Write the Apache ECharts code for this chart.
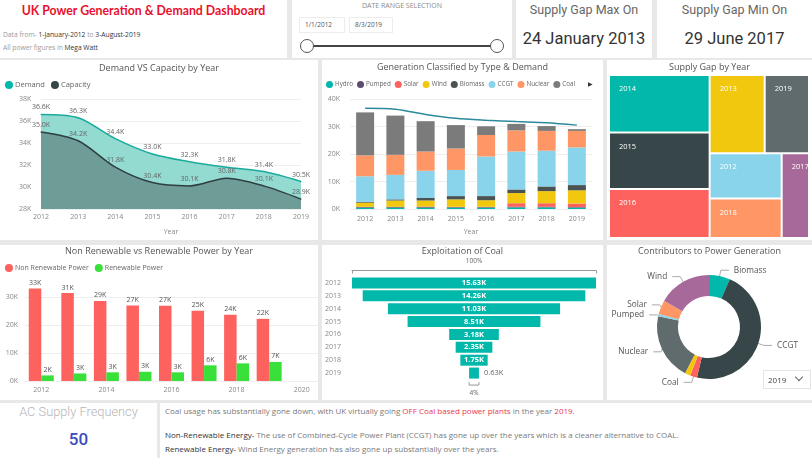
<!DOCTYPE html>
<html><head><meta charset="utf-8">
<script src="https://cdn.jsdelivr.net/npm/echarts@6.0.0/dist/echarts.min.js"></script>
<style>
html,body{margin:0;padding:0}
body{width:812px;height:458px;background:#e8e8e8;position:relative;overflow:hidden;font-family:'Open Sans','Noto Sans',sans-serif;color:#333}
.card{position:absolute;background:#fff;overflow:hidden}
.abs{position:absolute;white-space:nowrap}
.chart{position:absolute}
</style></head>
<body>
<!-- Title card -->
<div class="card" style="left:0;top:0;width:287px;height:58px">
  <div class="abs" style="left:0;width:287px;top:3px;text-align:center;font-family:Lato;font-weight:bold;font-size:12.3px;color:#e8112d">UK Power Generation &amp; Demand Dashboard</div>
  <div class="abs" style="left:3px;top:30px;font-size:6.7px;color:#9a9a9a">Data from- <span style="color:#333">1-January-2012</span> to <span style="color:#333">3-August-2019</span></div>
  <div class="abs" style="left:3px;top:43px;font-size:6.7px;color:#9a9a9a">All power figures in <span style="color:#333">Mega Watt</span></div>
</div>
<!-- Date range card -->
<div class="card" style="left:292px;top:0;width:220px;height:58px">
  <div class="abs" style="left:0;width:220px;top:1px;text-align:center;font-size:7px;color:#8a8a8a">DATE RANGE SELECTION</div>
  <div class="abs" style="left:7px;top:17px;width:44px;height:14px;border:1px solid #ececec;font-size:6.5px;color:#555;line-height:14px;text-indent:5px">1/1/2012</div>
  <div class="abs" style="left:57px;top:17px;width:42px;height:14px;border:1px solid #ececec;font-size:6.5px;color:#555;line-height:14px;text-indent:5px">8/3/2019</div>
  <div class="abs" style="left:15px;top:45px;width:190px;height:1.5px;background:#444"></div>
  <div class="abs" style="left:8px;top:38.5px;width:12px;height:12px;border:1.2px solid #555;border-radius:50%;background:#fff"></div>
  <div class="abs" style="left:198px;top:38.5px;width:12px;height:12px;border:1.2px solid #555;border-radius:50%;background:#fff"></div>
</div>
<!-- Supply gap cards -->
<div class="card" style="left:516px;top:0;width:136px;height:58px;text-align:center">
  <div class="abs" style="left:0;width:136px;top:2px;font-family:Roboto;font-size:12.5px;color:#666">Supply Gap Max On</div>
  <div class="abs" style="left:0;width:136px;top:29px;font-family:Roboto;font-size:16.5px;color:#333">24 January 2013</div>
</div>
<div class="card" style="left:657px;top:0;width:155px;height:58px;text-align:center">
  <div class="abs" style="left:0;width:155px;top:2px;font-family:Roboto;font-size:12.5px;color:#666">Supply Gap Min On</div>
  <div class="abs" style="left:0;width:155px;top:29px;font-family:Roboto;font-size:16.5px;color:#333">29 June 2017</div>
</div>

<div class="card" style="left:0;top:60px;width:318px;height:180px"><div id="c1" class="chart" style="left:0;top:0;width:318px;height:180px"></div></div>
<div class="card" style="left:322px;top:60px;width:281px;height:180px"><div id="c2" class="chart" style="left:0;top:0;width:281px;height:180px"></div></div>
<div class="card" style="left:607px;top:60px;width:205px;height:180px"><div id="c3" class="chart" style="left:0;top:0;width:205px;height:180px"></div></div>
<div class="card" style="left:0;top:245px;width:318px;height:155px"><div id="c4" class="chart" style="left:0;top:0;width:318px;height:155px"></div></div>
<div class="card" style="left:322px;top:245px;width:281px;height:155px"><div id="c5" class="chart" style="left:0;top:0;width:281px;height:155px"></div></div>
<div class="card" style="left:607px;top:245px;width:205px;height:155px"><div id="c6" class="chart" style="left:0;top:0;width:205px;height:155px"></div>
  <div class="abs" style="left:156px;top:125px;width:46px;height:17px;border:1px solid #e4e4e4;font-size:8px;color:#444;line-height:17px;text-indent:4px">2019</div>
  <div class="abs" style="left:189px;top:129px;width:5px;height:5px;border-right:1px solid #666;border-bottom:1px solid #666;transform:rotate(45deg)"></div>
</div>

<div class="card" style="left:0;top:403px;width:157px;height:55px;text-align:center">
  <div class="abs" style="left:0;width:157px;top:1px;font-family:Roboto;font-weight:300;font-size:12.8px;color:#b5b5b5">AC Supply Frequency</div>
  <div class="abs" style="left:0;width:157px;top:26px;font-family:Roboto;font-weight:500;font-size:17px;color:#3a4cc0">50</div>
</div>
<div class="card" style="left:160px;top:403px;width:652px;height:55px;font-size:8px;color:#7a7a7a">
  <div class="abs" style="left:5px;top:2px">Coal usage has substantially gone down, with UK virtually going <span style="color:#e8374f">OFF Coal based power plants</span> in the year <span style="color:#e8374f">2019</span>.</div>
  <div class="abs" style="left:5px;top:26px"><span style="color:#333">Non-Renewable Energy-</span> The use of Combined-Cycle Power Plant (CCGT) has gone up over the years which is a cleaner alternative to COAL.</div>
  <div class="abs" style="left:5px;top:40px"><span style="color:#333">Renewable Energy-</span> Wind Energy generation has also gone up substantially over the years.</div>
</div>

<script>
// ---------------- DATA ----------------
const years = ['2012','2013','2014','2015','2016','2017','2018','2019'];
const demand   = [36.6, 36.3, 34.4, 33.0, 32.3, 31.8, 31.4, 30.5];
const capacity = [35.0, 34.2, 31.8, 30.4, 30.1, 30.8, 30.1, 28.9];

const genTypes = ['Hydro','Pumped','Solar','Wind','Biomass','CCGT','Nuclear','Coal'];
const hydro   = [0.5, 0.5, 0.5, 0.5, 0.5, 0.6, 0.6, 0.5];
const pumped  = [0.3, 0.3, 0.3, 0.2, 0.2, 0.2, 0.2, 0.2];
const solar   = [0.0, 0.0, 0.1, 0.1, 0.1, 1.3, 1.3, 1.3];
const wind    = [1.5, 2.3, 2.2, 2.7, 2.4, 3.7, 4.4, 4.8];
const biomass = [0.3, 0.4, 0.9, 1.2, 1.5, 1.3, 1.7, 1.9];
const ccgt    = [9.3, 8.9, 9.9, 9.5, 14.4, 13.8, 13.0, 13.7];
const nuclear = [7.6, 7.3, 7.0, 7.8, 7.8, 7.7, 7.2, 6.0];
const coal    = [15.63, 14.26, 11.03, 8.51, 3.18, 2.35, 1.75, 0.63];

const nrYears = ['2012','2013','2014','2015','2016','2017','2018','2019','2020'];
const nonRenewable = [33.0, 31.4, 28.6, 27.0, 26.9, 25.1, 23.7, 22.2];
const renewable    = [2.0, 2.7, 3.1, 3.3, 3.1, 5.6, 6.3, 6.8];

const supplyGap = [3.1, 4.1, 5.5, 5.4, 4.7, 2.2, 2.7, 3.3];

const demandTicks = {min: 28, max: 38, step: 2};
const genTicks = {min: 0, max: 40, step: 10};
const nrTicks = {min: 0, max: 35, step: 10};
const donutYearIndex = 7; // 2019

// ---------------- STYLE ----------------
const FONT = 'Open Sans';
const pbi = ['#01B8AA','#374649','#FD625E','#F2C80F','#5F6B6D','#8AD4EB','#FE9666','#A66999'];
const genColors = ['#01B8AA','#5d4b6e','#FD625E','#F2C80F','#4a5252','#8AD4EB','#FE9666','#7b7b7b'];
const titleStyle = {fontSize: 9, fontWeight: 'normal', color: '#555', fontFamily: FONT};
const axisLbl = {fontSize: 7, color: '#888', fontFamily: FONT};
const kfmt = v => v + 'K';
const mkTitle = (text, top) => ({text: text, left: 'center', top: top, padding: 0, textStyle: titleStyle});

// ---------- 1: Demand vs Capacity ----------
const c1 = echarts.init(document.getElementById('c1'));
const lineLbl = {show: true, position: 'top', distance: 3, formatter: p => p.value.toFixed(1) + 'K', fontSize: 7, color: '#666', fontFamily: FONT};
c1.setOption({
  animation: false,
  title: mkTitle('Demand VS Capacity by Year', 4),
  legend: {left: 5, top: 21, padding: 0, icon: 'circle', itemWidth: 8, itemHeight: 8, itemGap: 6,
    textStyle: {fontSize: 7.5, color: '#666', fontFamily: FONT, padding: [0, 0, 0, -3]}, data: ['Demand', 'Capacity']},
  grid: {left: 41, right: 17, top: 39, bottom: 26},
  xAxis: {type: 'category', data: years, boundaryGap: false, name: 'Year', nameLocation: 'middle', nameGap: 19,
    nameTextStyle: {fontSize: 7, color: '#888', fontFamily: FONT},
    axisLine: {show: false}, axisTick: {show: false}, axisLabel: Object.assign({margin: 4}, axisLbl)},
  yAxis: {type: 'value', min: demandTicks.min, max: demandTicks.max, interval: demandTicks.step,
    axisLabel: Object.assign({formatter: kfmt, margin: 22, align: 'left'}, axisLbl),
    splitLine: {lineStyle: {color: '#eeeeee'}}},
  series: [
    {name: 'Demand', type: 'line', data: demand, smooth: 0.3, symbol: 'circle', symbolSize: 1, showSymbol: true, z: 2,
      itemStyle: {color: '#01B8AA'}, lineStyle: {color: '#1aab9b', width: 1.5},
      areaStyle: {color: '#93dad1', opacity: 1}, label: lineLbl},
    {name: 'Capacity', type: 'line', data: capacity, smooth: 0.3, symbol: 'circle', symbolSize: 1, showSymbol: true, z: 3,
      itemStyle: {color: '#374649'}, lineStyle: {color: '#2f3e40', width: 1.5},
      areaStyle: {color: '#6d9d96', opacity: 1}, label: lineLbl}
  ]
});

// ---------- 2: Generation by type ----------
const genData = [hydro, pumped, solar, wind, biomass, ccgt, nuclear, coal];
const c2 = echarts.init(document.getElementById('c2'));
c2.setOption({
  animation: false,
  title: mkTitle('Generation Classified by Type & Demand', 3),
  legend: {left: 4, top: 21, padding: 0, width: 270, icon: 'circle', itemWidth: 7, itemHeight: 7, itemGap: 4,
    textStyle: {fontSize: 6.3, color: '#666', fontFamily: FONT, padding: [0, 0, 0, -3]}, data: genTypes},
  graphic: [{type: 'text', right: 10, top: 21, style: {text: '▶', fontSize: 6, fill: '#333'}}],
  grid: {left: 28, right: 11, top: 39, bottom: 26},
  xAxis: {type: 'category', data: years, name: 'Year', nameLocation: 'middle', nameGap: 19,
    nameTextStyle: {fontSize: 7, color: '#888', fontFamily: FONT},
    axisLine: {show: false}, axisTick: {show: false}, axisLabel: Object.assign({margin: 6}, axisLbl)},
  yAxis: {type: 'value', min: genTicks.min, max: genTicks.max, interval: genTicks.step,
    axisLabel: Object.assign({formatter: kfmt, margin: 10}, axisLbl),
    splitLine: {lineStyle: {color: '#eeeeee'}}},
  series: genTypes.map((t, i) => ({name: t, type: 'bar', stack: 'gen', barWidth: 18, data: genData[i],
      itemStyle: {color: genColors[i]}})).concat([
    {name: 'Demand', type: 'line', data: demand, smooth: 0.3, symbol: 'none', z: 5,
      lineStyle: {color: '#2b8a9b', width: 1.5}, itemStyle: {color: '#2b8a9b'}}
  ])
});

// ---------- 3: Treemap ----------
const order = supplyGap.map((v, i) => i).sort((a, b) => supplyGap[b] - supplyGap[a]);
const rank = []; order.forEach((idx, r) => rank[idx] = r);
const c3 = echarts.init(document.getElementById('c3'));
c3.setOption({
  animation: false,
  title: mkTitle('Supply Gap by Year', 3),
  series: [{
    type: 'treemap', left: 3, top: 16, width: 198, height: 161,
    roam: false, nodeClick: false, breadcrumb: {show: false},
    levels: [{itemStyle: {borderWidth: 0, gapWidth: 2}}],
    label: {show: true, position: 'insideTopLeft', distance: 4, color: '#fff', fontSize: 7.5, fontFamily: FONT, formatter: '{b}', overflow: 'none'},
    itemStyle: {borderWidth: 0},
    data: years.map((y, i) => ({name: y, value: supplyGap[i], itemStyle: {color: pbi[rank[i]]}}))
  }]
});

// ---------- 4: Non renewable vs renewable ----------
const c4 = echarts.init(document.getElementById('c4'));
const barLbl = {show: true, position: 'top', distance: 2, formatter: p => Math.round(p.value) + 'K', fontSize: 7, color: '#555', fontFamily: FONT};
c4.setOption({
  animation: false,
  title: mkTitle('Non Renewable vs Renewable Power by Year', 2),
  legend: {left: 5, top: 19, padding: 0, icon: 'circle', itemWidth: 8, itemHeight: 8, itemGap: 6,
    textStyle: {fontSize: 7, color: '#666', fontFamily: FONT, padding: [0, 0, 0, -3]}, data: ['Non Renewable Power', 'Renewable Power']},
  grid: {left: 25, right: 0, top: 38, bottom: 19},
  xAxis: {type: 'category', data: nrYears, axisLine: {show: false}, axisTick: {show: false},
    axisLabel: Object.assign({interval: 1, margin: 5}, axisLbl)},
  yAxis: {type: 'value', min: nrTicks.min, max: nrTicks.max, interval: nrTicks.step,
    axisLabel: Object.assign({formatter: kfmt, margin: 7, showMaxLabel: false}, axisLbl),
    splitLine: {showMaxLine: false, lineStyle: {color: '#eeeeee'}}},
  series: [
    {name: 'Non Renewable Power', type: 'bar', data: nonRenewable, barWidth: 12.5, barGap: '0%', itemStyle: {color: '#FD625E'}, label: barLbl},
    {name: 'Renewable Power', type: 'bar', data: renewable, barWidth: 12.5, barGap: '0%', itemStyle: {color: '#3ae03a'}, label: barLbl}
  ]
});

// ---------- 5: Funnel (Exploitation of coal) ----------
const coalMax = Math.max.apply(null, coal);
const c5 = echarts.init(document.getElementById('c5'));
c5.setOption({
  animation: false,
  title: mkTitle('Exploitation of Coal', 2),
  grid: {left: 30, right: 7, top: 31.5, bottom: 20.5},
  xAxis: {type: 'value', min: 0, max: coalMax, interval: coalMax, position: 'top', offset: 6,
    name: '100%', nameLocation: 'middle', nameGap: 6, nameTextStyle: {fontSize: 6.5, color: '#666', fontFamily: FONT},
    axisLine: {show: true, lineStyle: {color: '#999'}}, axisTick: {show: true, length: 3, inside: true, lineStyle: {color: '#999'}},
    axisLabel: {show: false}, splitLine: {show: false}},
  yAxis: {type: 'category', data: years, inverse: true, axisLine: {show: false}, axisTick: {show: false},
    axisLabel: Object.assign({margin: 11}, axisLbl)},
  series: [
    {type: 'bar', stack: 'f', silent: true, barWidth: 11, data: coal.map(v => (coalMax - v) / 2), itemStyle: {color: 'rgba(0,0,0,0)'}},
    {type: 'bar', stack: 'f', barWidth: 11, itemStyle: {color: '#01B8AA'},
      data: coal.map(v => v < 1
        ? {value: v, label: {position: 'right', color: '#666', fontWeight: 'normal'}}
        : v),
      label: {show: true, position: 'inside', color: '#fff', fontSize: 7.5, fontWeight: 'bold', fontFamily: FONT,
        formatter: p => p.value.toFixed(2) + 'K'}}
  ]
});
(function () {
  const i = coal.length - 1;
  const off = (coalMax - coal[i]) / 2;
  const pL = c5.convertToPixel({gridIndex: 0}, [off, i]);
  const pR = c5.convertToPixel({gridIndex: 0}, [off + coal[i], i]);
  const y = pL[1] + 12;
  c5.setOption({graphic: [
    {type: 'polyline', shape: {points: [[pL[0], y - 3], [pL[0], y], [pR[0], y], [pR[0], y - 3]]}, style: {stroke: '#999', lineWidth: 1, fill: null}},
    {type: 'text', x: (pL[0] + pR[0]) / 2, y: y + 8, style: {text: Math.round(coal[i] / coalMax * 100) + '%', fontSize: 6.5, fill: '#666', fontFamily: FONT, align: 'center', verticalAlign: 'middle'}}
  ]});
})();

// ---------- 6: Donut ----------
const donutNames = genTypes.slice().sort();
const c6 = echarts.init(document.getElementById('c6'));
c6.setOption({
  animation: false,
  title: mkTitle('Contributors to Power Generation', 2),
  color: pbi,
  series: [{
    type: 'pie', radius: [31, 52], center: [102, 82], startAngle: 90, clockwise: true,
    avoidLabelOverlap: true,
    label: {show: true, formatter: '{b}', fontSize: 8.3, color: '#555', fontFamily: FONT, overflow: 'none'},
    labelLine: {length: 6, length2: 8, lineStyle: {color: '#aaa', width: 1}},
    data: donutNames.map(n => {
      const v = genData[genTypes.indexOf(n)][donutYearIndex];
      return n === 'Hydro' ? {name: n, value: v, label: {show: false}, labelLine: {show: false}} : {name: n, value: v};
    })
  }]
});
</script>
</body></html>
